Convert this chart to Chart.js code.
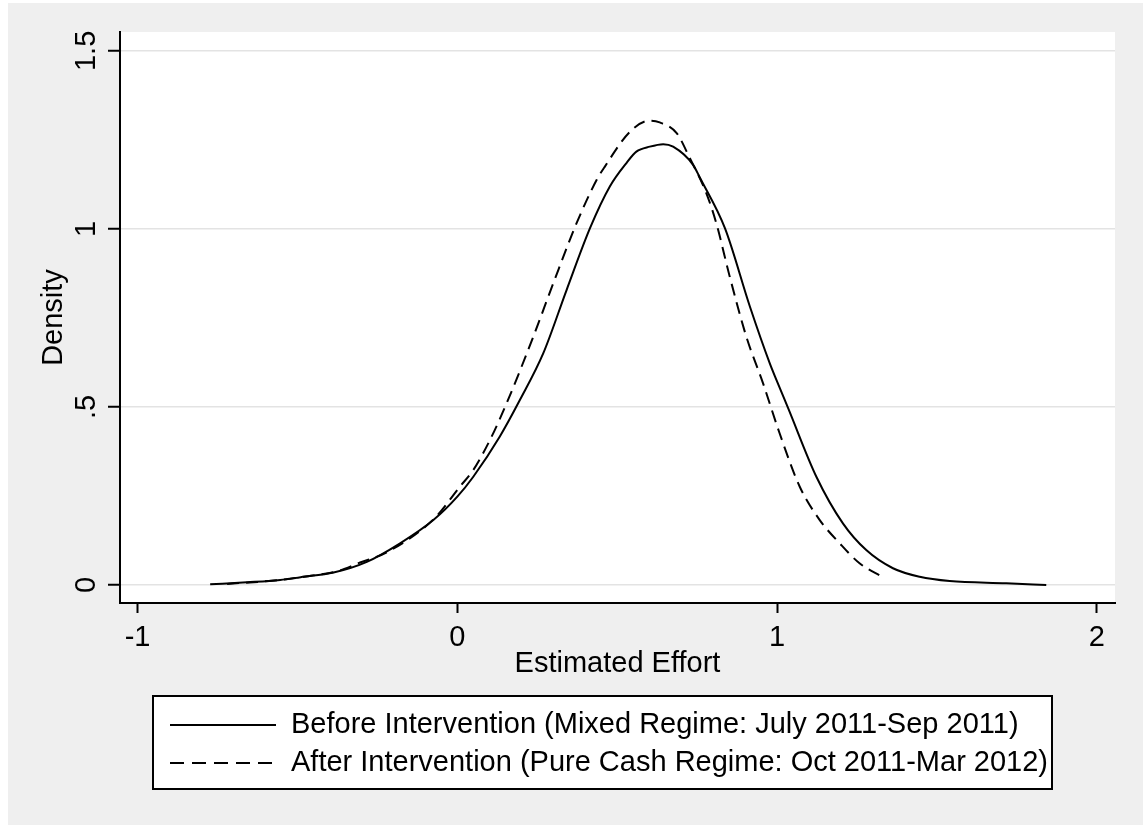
<!DOCTYPE html>
<html><head><meta charset="utf-8">
<script src="https://cdn.jsdelivr.net/npm/chart.js@4.4.1/dist/chart.umd.min.js"></script>
<style>
html,body{margin:0;padding:0;background:#fff;}
#wrap{position:absolute;left:8px;top:3px;width:1135px;height:822px;background:#efefef;}
canvas{display:block;}
</style></head><body>
<div id="wrap"><canvas id="c" width="1135" height="822"></canvas></div>
<script>
// Before Intervention (solid)
const beforeX = [-0.773,-0.658,-0.554,-0.49,-0.387,-0.283,-0.179,-0.074,0.0,0.05,0.133,0.196,0.269,0.342,0.415,0.477,0.529,0.56,0.602,0.644,0.675,0.7375,0.758,0.837,0.915,0.977,0.998,1.035,1.123,1.206,1.279,1.3625,1.446,1.54,1.717,1.842];
const beforeY = [0.002,0.0075,0.014,0.022,0.035,0.065,0.117,0.183,0.248,0.304,0.417,0.52,0.651,0.829,1.002,1.119,1.185,1.217,1.231,1.238,1.231,1.18,1.145,1.002,0.782,0.623,0.576,0.496,0.304,0.173,0.098,0.047,0.023,0.011,0.005,0.0];
// After Intervention (dashed)
const afterX = [-0.72,-0.554,-0.45,-0.377,-0.304,-0.22,-0.074,0.008,0.05,0.102,0.154,0.2375,0.3,0.373,0.436,0.4615,0.54,0.602,0.633,0.686,0.727,0.779,0.81,0.852,0.904,0.956,1.008,1.071,1.133,1.196,1.258,1.331];
const afterY = [0.003,0.014,0.027,0.038,0.063,0.092,0.185,0.276,0.323,0.407,0.51,0.697,0.847,1.016,1.138,1.175,1.273,1.304,1.299,1.269,1.199,1.1,1.016,0.866,0.697,0.567,0.426,0.276,0.183,0.117,0.061,0.022];

const xTicks = [-1,0,1,2];
const yTicks = [0,0.5,1,1.5];
const yTickLabels = ['0','.5','1','1.5'];
const xTitle = 'Estimated Effort';
const yTitle = 'Density';
const seriesNames = ['Before Intervention (Mixed Regime: July 2011-Sep 2011)','After Intervention (Pure Cash Regime: Oct 2011-Mar 2012)'];

const FONT = '"Liberation Sans", Arial, sans-serif';
Chart.defaults.font.family = FONT;
Chart.defaults.color = '#000';

const toPts = (xs, ys) => xs.map((x,i)=>({x, y: ys[i]}));

const plotBg = {
  id:'plotBg',
  beforeDraw(chart){
    const {ctx, chartArea:a} = chart;
    ctx.save(); ctx.fillStyle='#fff';
    ctx.fillRect(a.left, a.top, a.right-a.left, a.bottom-a.top);
    ctx.restore();
  }
};

const boxLegend = {
  id:'boxLegend',
  afterDraw(chart){
    const ctx = chart.ctx;
    ctx.save();
    ctx.fillStyle='#fff';
    ctx.fillRect(145,693,899,93);
    ctx.strokeStyle='#000'; ctx.lineWidth=2;
    ctx.strokeRect(145,693,899,93);
    const rows=[722,760];
    const dashes=[[],[14,8]];
    chart.data.datasets.forEach((ds,i)=>{
      ctx.setLineDash(dashes[i]);
      ctx.beginPath(); ctx.moveTo(162,rows[i]); ctx.lineTo(268,rows[i]); ctx.stroke();
      ctx.setLineDash([]);
      ctx.font = '29px ' + FONT;
      ctx.fillStyle='#000'; ctx.textBaseline='middle'; ctx.textAlign='left';
      ctx.fillText(ds.label, 283, rows[i]);
    });
    ctx.restore();
  }
};

new Chart(document.getElementById('c'), {
  type:'line',
  data:{
    datasets:[
      {label:seriesNames[0], data:toPts(beforeX,beforeY), borderColor:'#000', borderWidth:2, pointRadius:0, fill:false, cubicInterpolationMode:'monotone'},
      {label:seriesNames[1], data:toPts(afterX,afterY), borderColor:'#000', borderWidth:2, borderDash:[12,7], pointRadius:0, fill:false, cubicInterpolationMode:'monotone'}
    ]
  },
  options:{
    responsive:false, animation:false, devicePixelRatio:1,
    layout:{padding:{left:0, top:29, right:28, bottom:142}},
    plugins:{legend:{display:false}, tooltip:{enabled:false}},
    scales:{
      x:{
        type:'linear', min:-1.055, max:2.057,
        afterBuildTicks: s => { s.ticks = xTicks.map(v=>({value:v})); },
        afterFit: s => { s.height = 80; },
        ticks:{font:{size:29}, padding:8, color:'#000', maxRotation:0, minRotation:0, callback:v=>String(v)},
        grid:{drawOnChartArea:false, drawTicks:true, tickLength:10, tickColor:'#000', tickWidth:2},
        border:{display:true, color:'#000', width:2},
        title:{display:true, text:xTitle, font:{size:29}, color:'#000', padding:{top:0,bottom:2}}
      },
      y:{
        type:'linear', min:-0.0506, max:1.553,
        afterBuildTicks: s => { s.ticks = yTicks.map(v=>({value:v})); },
        afterFit: s => { s.width = 112; },
        ticks:{font:{size:29}, padding:1, color:'#000', minRotation:90, maxRotation:90, crossAlign:'center',
          callback:v=>yTickLabels[yTicks.indexOf(v)]},
        grid:{color:'#e3e3e3', lineWidth:1.5, drawTicks:true, tickLength:12, tickColor:'#000', tickWidth:2},
        border:{display:true, color:'#000', width:2},
        title:{display:true, text:yTitle, font:{size:29}, color:'#000', padding:{top:29,bottom:0}}
      }
    }
  },
  plugins:[plotBg, boxLegend]
});
</script>
</body></html>
